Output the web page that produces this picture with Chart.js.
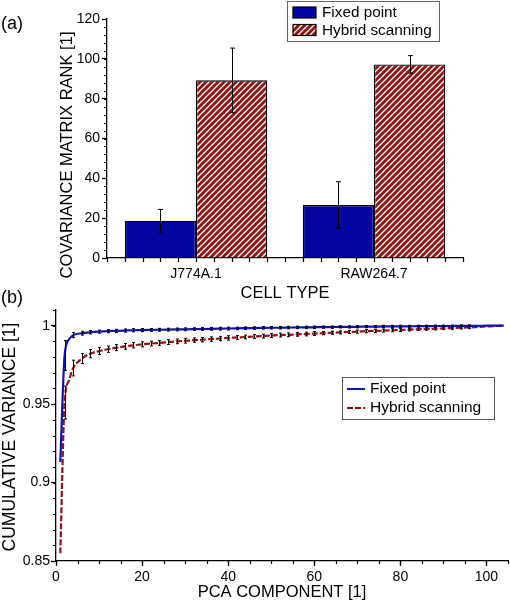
<!DOCTYPE html>
<html><head><meta charset="utf-8">
<script src="https://cdn.jsdelivr.net/npm/chart.js@4.4.0/dist/chart.umd.min.js"></script>
<style>
html,body{margin:0;padding:0;background:#fff;width:510px;height:610px;overflow:hidden;}
#c1{position:absolute;left:0;top:0;}
#c2{position:absolute;left:0;top:285px;}
</style></head><body>
<canvas id="c1" width="510" height="300"></canvas>
<canvas id="c2" width="510" height="325"></canvas>
<script>
// ---------- (a) bar chart data ----------
const cellTypes = ['J774A.1', 'RAW264.7'];
const fixedRank = [18.7, 26.6];
const fixedRankErr = [5.7, 11.7];
const hybridRank = [89.2, 97.2];
const hybridRankErr = [16.2, 4.4];
const rankTicks = [0, 20, 40, 60, 80, 100, 120];

// ---------- (b) cumulative variance data ----------
const pcaComponents = [1, 2, 3, 4, 6, 8, 10, 12, 14, 16,
  18, 20, 22, 24, 26, 28, 30, 32, 34, 36,
  38, 40, 42, 44, 46, 48, 50, 52, 54, 56,
  58, 60, 62, 64, 66, 68, 70, 72, 74, 76,
  78, 80, 82, 84, 86, 88, 90, 92, 94, 96,
  98, 100, 102, 104];
const fixedCum = [0.913, 0.981, 0.9912, 0.9940, 0.9952, 0.9958, 0.9962, 0.9965, 0.9967, 0.9969,
  0.9971, 0.9972, 0.9973, 0.9974, 0.9975, 0.9976, 0.9977, 0.9978, 0.9979, 0.9980,
  0.9981, 0.9982, 0.9983, 0.9984, 0.9985, 0.9986, 0.9987, 0.9987, 0.9988, 0.9989,
  0.9989, 0.9990, 0.9991, 0.9991, 0.9992, 0.9992, 0.9993, 0.9994, 0.9994, 0.9995,
  0.9995, 0.9996, 0.9996, 0.9997, 0.9997, 0.9998, 0.9998, 0.9998, 0.9999, 0.9999,
  0.9999, 1.0, 1.0, 1.0];
const fixedErr = [null, 0.0095, null, 0.0016, 0.0012, 0.0011, 0.001, 0.001, 0.001, 0.001,
  0.001, 0.001, 0.0009, 0.0009, 0.0009, 0.0009, 0.0009, 0.0009, 0.0009, 0.0009,
  0.0009, 0.0009, 0.0008, 0.0008, 0.0008, 0.0008, 0.0008, 0.0008, 0.0008, 0.0008,
  0.0008, 0.0008, 0.0007, 0.0007, 0.0007, 0.0007, 0.0007, 0.0007, 0.0007, 0.0007,
  0.0007, 0.0007, 0.0006, 0.0006, 0.0006, 0.0006, 0.0006, 0.0006, 0.0006, 0.0006,
  null, null, null, null];
const hybridCum = [0.855, 0.951, 0.965, 0.9730, 0.9790, 0.9822, 0.9838, 0.9850, 0.9860, 0.9868,
  0.9875, 0.9881, 0.9886, 0.9890, 0.9895, 0.9900, 0.9904, 0.9908, 0.9911, 0.9915,
  0.9918, 0.9922, 0.9925, 0.9928, 0.9931, 0.9934, 0.9937, 0.9940, 0.9942, 0.9945,
  0.9947, 0.9950, 0.9952, 0.9955, 0.9957, 0.9960, 0.9962, 0.9965, 0.9967, 0.9969,
  0.9971, 0.9973, 0.9975, 0.9977, 0.9979, 0.9981, 0.9983, 0.9985, 0.9987, 0.9989,
  0.9992, 0.9995, 0.9998, 1.0];
const hybridErr = [null, 0.0105, null, 0.005, 0.0032, 0.0026, 0.0022, 0.002, 0.0019, 0.0018,
  0.0017, 0.0016, 0.0015, 0.0015, 0.0015, 0.0015, 0.0015, 0.0014, 0.0014, 0.0014,
  0.0014, 0.0014, 0.0012, 0.0012, 0.0012, 0.0012, 0.0012, 0.0012, 0.0012, 0.0012,
  0.0012, 0.0012, 0.001, 0.001, 0.001, 0.001, 0.001, 0.001, 0.001, 0.001,
  0.001, 0.001, 0.0008, 0.0008, 0.0008, 0.0008, 0.0008, 0.0008, 0.0008, 0.0008,
  null, null, null, null];
const varianceTicks = [0.85, 0.9, 0.95, 1];
const componentTicks = [0, 20, 40, 60, 80, 100];

// ---------- styling ----------
const FONT = '"Liberation Sans", Arial, Helvetica, sans-serif';
Chart.defaults.font.family = FONT;
Chart.defaults.color = '#000';
const BLUE_BAR = '#0404a0';
const RED = '#961212';
const BLUE_LINE = '#1010b4';

function hatchPattern() {
  const c = document.createElement('canvas');
  c.width = 6; c.height = 6;
  const g = c.getContext('2d');
  g.fillStyle = '#fff'; g.fillRect(0, 0, 6, 6);
  g.strokeStyle = RED; g.lineWidth = 2.9;
  g.beginPath();
  for (const k of [0, 6, 12]) { g.moveTo(k - 7, 7); g.lineTo(k + 1, -1); }
  g.stroke();
  return document.getElementById('c1').getContext('2d').createPattern(c, 'repeat');
}

function drawText(ctx, txt, x, y, size, rot, align) {
  ctx.save();
  ctx.font = size + 'px ' + FONT;
  ctx.fillStyle = '#000';
  ctx.textAlign = align || 'center';
  ctx.textBaseline = 'middle';
  ctx.translate(x, y);
  if (rot) ctx.rotate(rot);
  ctx.fillText(txt, 0, 0);
  ctx.restore();
}

// ---------- (a) ----------
const barPlugin = {
  id: 'barExtras',
  afterDatasetsDraw(chart) {
    const ctx = chart.ctx, xs = chart.scales.x, ys = chart.scales.y;
    ctx.save();
    ctx.strokeStyle = '#000'; ctx.lineWidth = 1;
    chart.data.datasets.forEach((ds, di) => {
      const meta = chart.getDatasetMeta(di);
      meta.data.forEach((bar, i) => {
        const v = ds.data[i], e = ds.errors[i];
        const x = Math.round(bar.x) + 0.5;
        const y1 = ys.getPixelForValue(v + e), y2 = ys.getPixelForValue(v - e);
        ctx.beginPath();
        ctx.moveTo(x, y1); ctx.lineTo(x, y2);
        ctx.moveTo(x - 2.5, y1); ctx.lineTo(x + 2.5, y1);
        ctx.moveTo(x - 2.5, y2); ctx.lineTo(x + 2.5, y2);
        ctx.stroke();
      });
    });
    // minor ticks
    ctx.lineWidth = 1.2;
    ctx.beginPath();
    for (let v = 0; v <= 120; v += 4) {
      const y = Math.round(ys.getPixelForValue(v)) + 0.5;
      ctx.moveTo(xs.left - 3, y); ctx.lineTo(xs.left, y);
    }
    for (let k = 0; k <= 20; k++) {
      const x = Math.round(xs.left + (xs.right - xs.left) * k / 20) + 0.5;
      ctx.moveTo(x, ys.bottom); ctx.lineTo(x, ys.bottom + 4);
    }
    ctx.stroke();
    ctx.restore();
  },
  afterDraw(chart) {
    const ctx = chart.ctx;
    drawText(ctx, '(a)', 1, 24, 18, 0, 'left');
    drawText(ctx, 'COVARIANCE MATRIX RANK [1]', 67, 155, 16.5, -Math.PI / 2);
    drawText(ctx, 'CELL TYPE', 285, 293, 16.5, 0);
    // legend
    ctx.save();
    ctx.fillStyle = '#fff';
    ctx.fillRect(287.5, 1.5, 152, 40);
    ctx.strokeStyle = '#666'; ctx.lineWidth = 1;
    ctx.strokeRect(287.5, 1.5, 152, 40);
    ctx.fillStyle = BLUE_BAR; ctx.fillRect(293, 7, 23, 11);
    ctx.fillStyle = chart.data.datasets[1].backgroundColor; ctx.fillRect(293, 24.5, 23, 11);
    ctx.strokeStyle = '#000'; ctx.lineWidth = 1.2;
    ctx.strokeRect(293, 7, 23, 11);
    ctx.strokeRect(293, 24.5, 23, 11);
    ctx.restore();
    drawText(ctx, chart.data.datasets[0].label, 322, 13, 15.3, 0, 'left');
    drawText(ctx, chart.data.datasets[1].label, 322, 30.5, 15.3, 0, 'left');
  }
};

new Chart(document.getElementById('c1'), {
  type: 'bar',
  data: {
    labels: cellTypes,
    datasets: [
      { label: 'Fixed point', data: fixedRank, errors: fixedRankErr, backgroundColor: BLUE_BAR, borderColor: '#000', borderWidth: 1.3 },
      { label: 'Hybrid scanning', data: hybridRank, errors: hybridRankErr, backgroundColor: hatchPattern(), borderColor: '#000', borderWidth: 1.3 }
    ]
  },
  options: {
    responsive: false, animation: false,
    layout: { padding: { left: 0, top: 19, right: 47, bottom: 0 } },
    datasets: { bar: { categoryPercentage: 0.8, barPercentage: 1.0 } },
    plugins: { legend: { display: false }, tooltip: { enabled: false } },
    scales: {
      x: {
        grid: { display: false, drawTicks: false },
        border: { color: '#000', width: 1.3 },
        ticks: { padding: 8, font: { size: 14 } },
        afterFit: s => { s.height = 42; }
      },
      y: {
        min: 0, max: 120,
        afterBuildTicks: s => { s.ticks = rankTicks.map(v => ({ value: v })); },
        ticks: { padding: 2, font: { size: 14 } },
        grid: { drawOnChartArea: false, tickLength: 5, tickColor: '#000', tickWidth: 1.3 },
        border: { color: '#000', width: 1.3 },
        afterFit: s => { s.width = 107; }
      }
    }
  },
  plugins: [barPlugin]
});

// ---------- (b) ----------
const lineData = arr => pcaComponents.map((x, i) => ({ x: x, y: arr[i] }));

const linePlugin = {
  id: 'lineExtras',
  afterDatasetsDraw(chart) {
    const ctx = chart.ctx, xs = chart.scales.x, ys = chart.scales.y;
    ctx.save();
    ctx.strokeStyle = '#000'; ctx.lineWidth = 1;
    chart.data.datasets.forEach(ds => {
      ds.errs.forEach((e, i) => {
        if (e == null) return;
        const v = ds.vals[i];
        const x = Math.round(xs.getPixelForValue(pcaComponents[i])) + 0.5;
        const y1 = ys.getPixelForValue(v + e), y2 = ys.getPixelForValue(v - e);
        ctx.beginPath();
        ctx.moveTo(x, y1); ctx.lineTo(x, y2);
        ctx.moveTo(x - 1.5, y1); ctx.lineTo(x + 1.5, y1);
        ctx.moveTo(x - 1.5, y2); ctx.lineTo(x + 1.5, y2);
        ctx.stroke();
      });
    });
    // minor ticks
    ctx.lineWidth = 1.2;
    ctx.beginPath();
    for (let k = 0; k <= 16; k++) {
      const y = Math.round(ys.getPixelForValue(0.85 + k * 0.01)) + 0.5;
      ctx.moveTo(xs.left - 3, y); ctx.lineTo(xs.left, y);
    }
    for (let v = 0; v <= 105; v += 5) {
      const x = Math.round(xs.getPixelForValue(v)) + 0.5;
      ctx.moveTo(x, ys.bottom); ctx.lineTo(x, ys.bottom + 3);
    }
    ctx.stroke();
    ctx.restore();
  },
  afterDraw(chart) {
    const ctx = chart.ctx;
    drawText(ctx, '(b)', 1, 13, 18, 0, 'left');
    drawText(ctx, 'CUMULATIVE VARIANCE [1]', 10, 152, 17.5, -Math.PI / 2);
    drawText(ctx, 'PCA COMPONENT [1]', 282, 307, 16.5, 0);
    // legend
    ctx.save();
    ctx.fillStyle = '#fff';
    ctx.fillRect(342.5, 92.5, 152, 42);
    ctx.strokeStyle = '#555'; ctx.lineWidth = 1;
    ctx.strokeRect(342.5, 92.5, 152, 42);
    ctx.lineWidth = 2;
    ctx.strokeStyle = BLUE_LINE;
    ctx.beginPath(); ctx.moveTo(347, 104); ctx.lineTo(365, 104); ctx.stroke();
    ctx.strokeStyle = RED; ctx.setLineDash([6, 2]);
    ctx.beginPath(); ctx.moveTo(347, 123); ctx.lineTo(365, 123); ctx.stroke();
    ctx.restore();
    drawText(ctx, chart.data.datasets[0].label, 370, 104, 15.5, 0, 'left');
    drawText(ctx, chart.data.datasets[1].label, 370, 123, 15.5, 0, 'left');
  }
};

new Chart(document.getElementById('c2'), {
  type: 'line',
  data: {
    datasets: [
      { label: 'Fixed point', data: lineData(fixedCum), vals: fixedCum, errs: fixedErr,
        borderColor: BLUE_LINE, borderWidth: 2.2, pointRadius: 0, cubicInterpolationMode: 'monotone', fill: false },
      { label: 'Hybrid scanning', data: lineData(hybridCum), vals: hybridCum, errs: hybridErr,
        borderColor: RED, borderWidth: 2.2, borderDash: [6, 2], pointRadius: 0, cubicInterpolationMode: 'monotone', fill: false }
    ]
  },
  options: {
    responsive: false, animation: false,
    layout: { padding: { left: 0, top: 25, right: 2, bottom: 0 } },
    plugins: { legend: { display: false }, tooltip: { enabled: false } },
    scales: {
      x: {
        type: 'linear', min: 0, max: 105,
        afterBuildTicks: s => { s.ticks = componentTicks.map(v => ({ value: v })); },
        ticks: { padding: 3, font: { size: 14 } },
        grid: { drawOnChartArea: false, tickLength: 5, tickColor: '#000', tickWidth: 1.3 },
        border: { color: '#000', width: 1.3 },
        afterFit: s => { s.height = 49; }
      },
      y: {
        min: 0.85, max: 1.01,
        afterBuildTicks: s => { s.ticks = varianceTicks.map(v => ({ value: v })); },
        ticks: { padding: 1, font: { size: 14 }, callback: v => String(+v.toFixed(2)) },
        grid: { drawOnChartArea: false, tickLength: 5, tickColor: '#000', tickWidth: 1.3 },
        border: { color: '#000', width: 1.3 },
        afterFit: s => { s.width = 56; }
      }
    }
  },
  plugins: [linePlugin]
});
</script>
</body></html>
